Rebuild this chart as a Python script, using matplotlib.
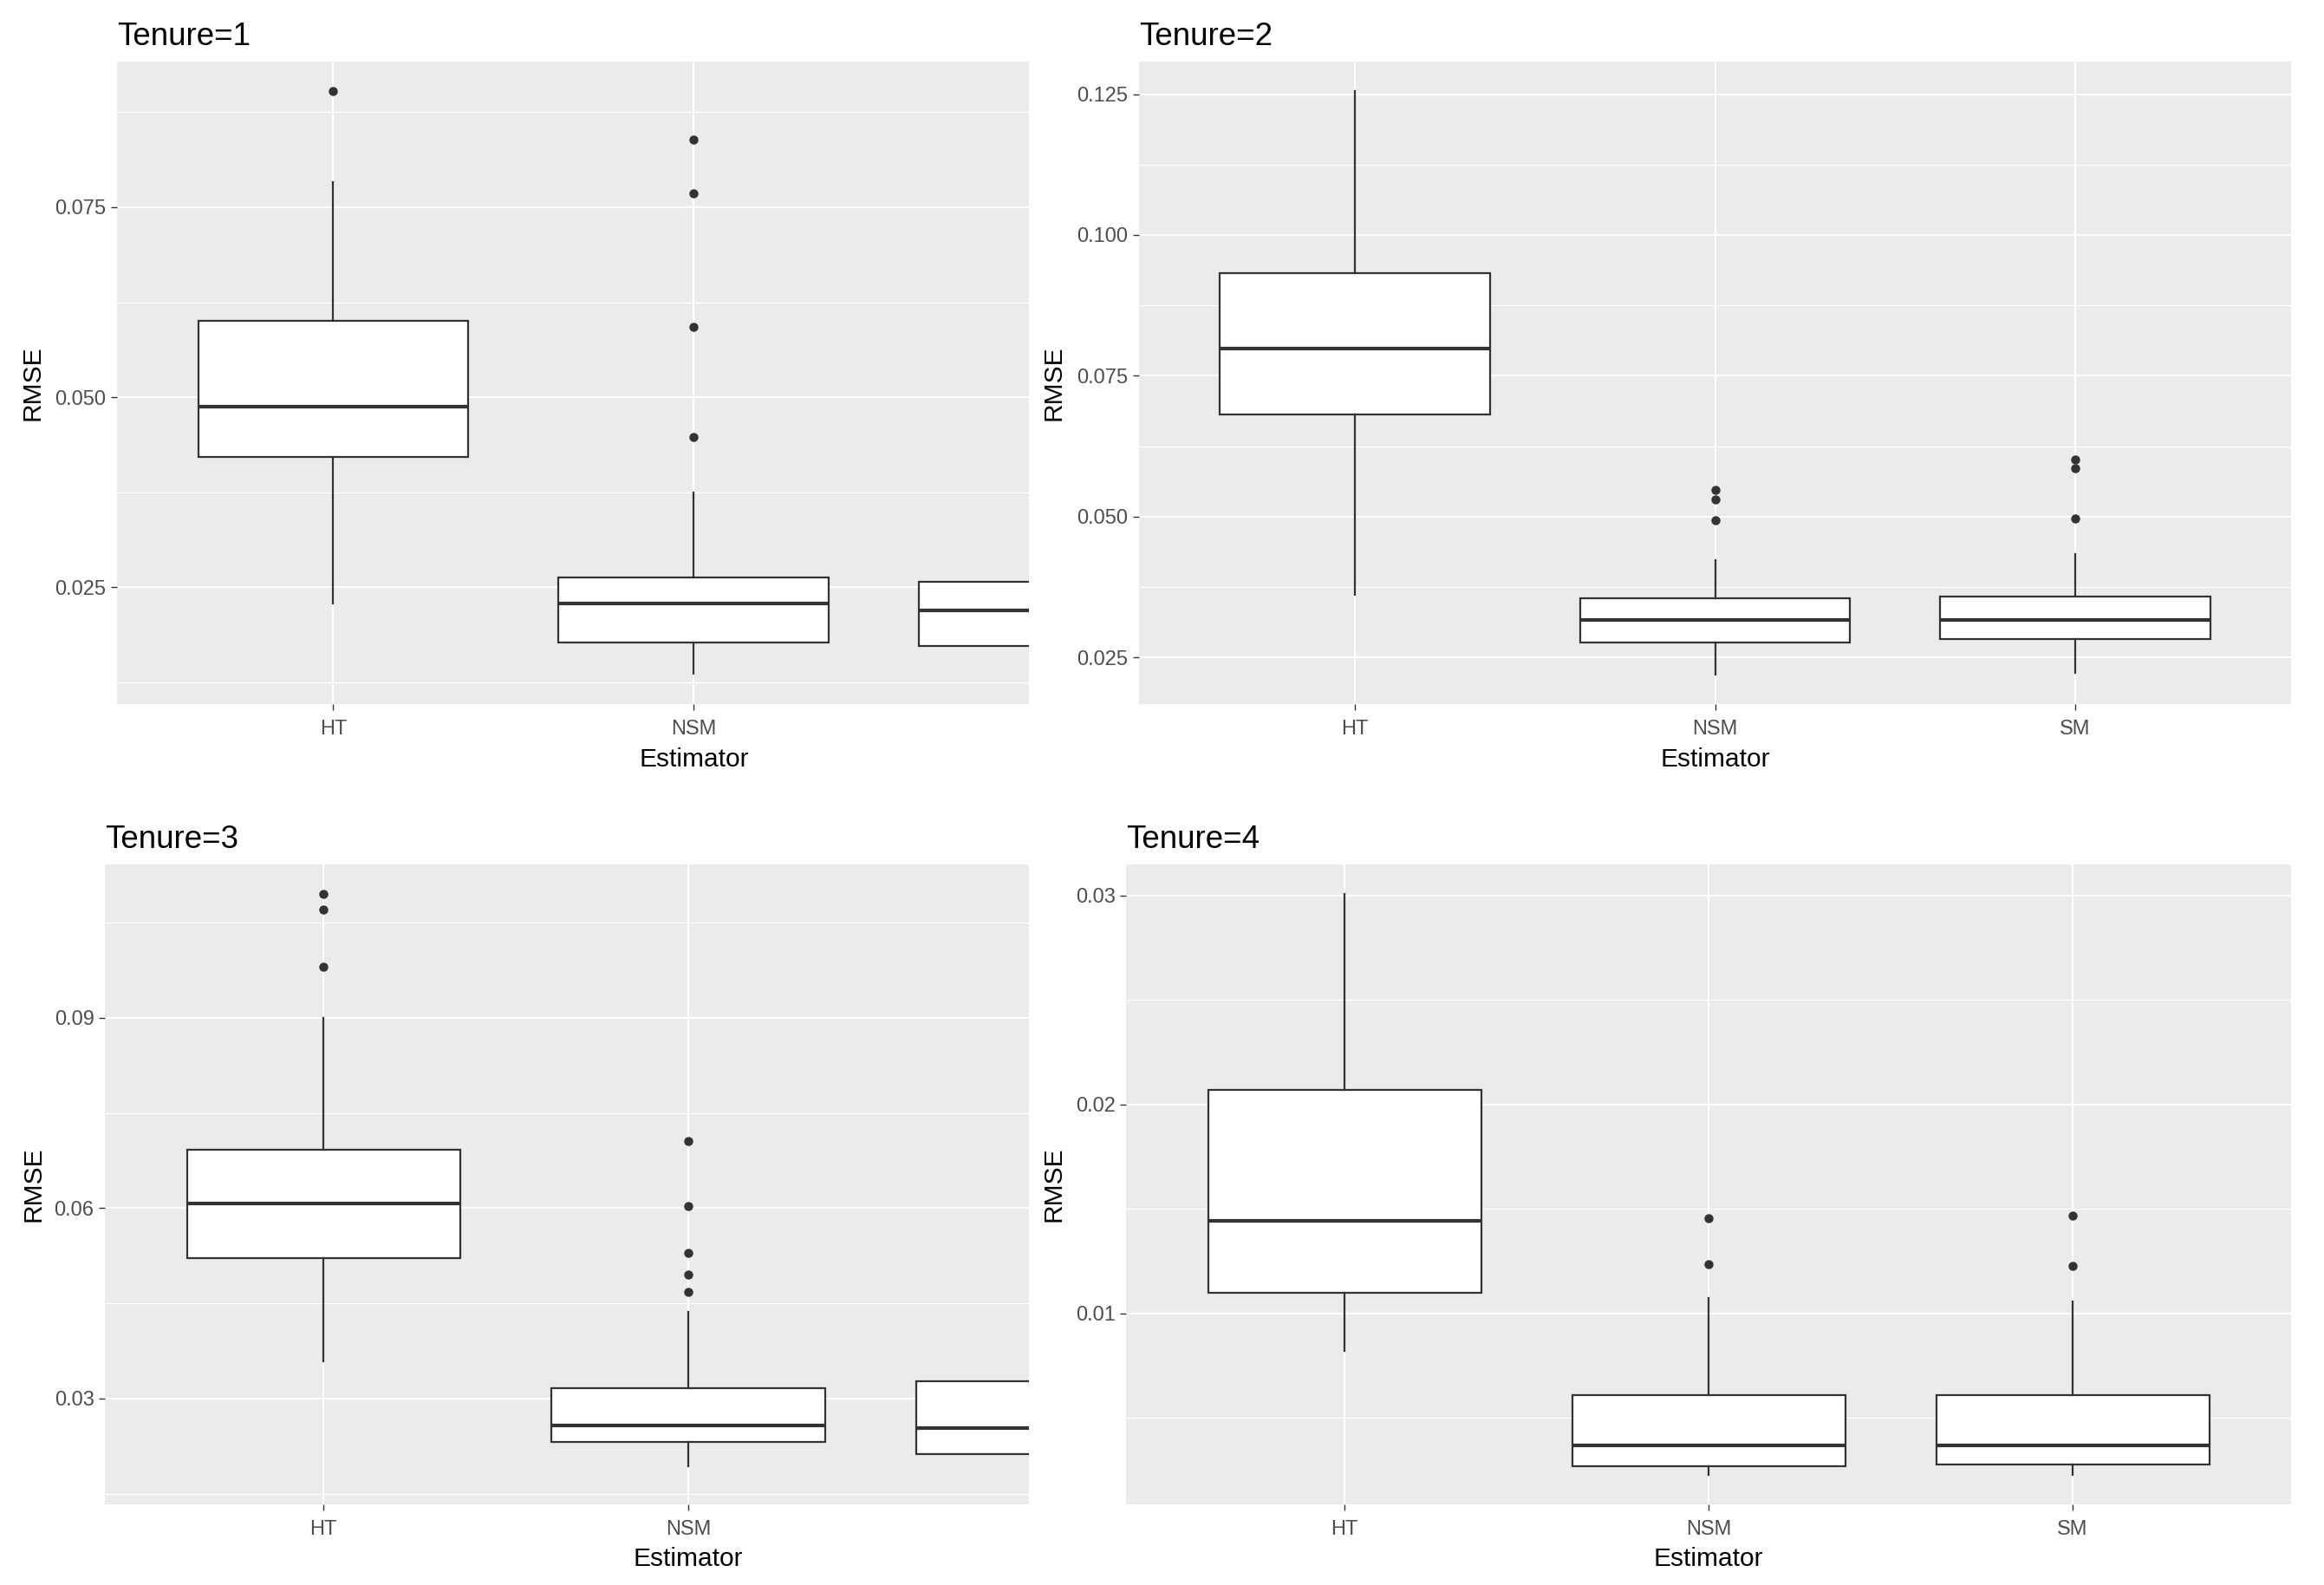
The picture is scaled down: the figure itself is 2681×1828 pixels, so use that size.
import matplotlib
matplotlib.use("Agg")
import matplotlib.pyplot as plt
from matplotlib.ticker import FixedLocator, FormatStrFormatter

plt.rcParams['font.family'] = ['Liberation Sans', 'DejaVu Sans']

estimators = ["HT", "NSM", "SM"]
tenures = [1, 2, 3, 4]

# box statistics per tenure: [HT, NSM, SM]
t1_whislo = [0.0229, 0.0136, 0.0135]
t1_q1     = [0.0421, 0.0177, 0.0173]
t1_med    = [0.0488, 0.0229, 0.0220]
t1_q3     = [0.0600, 0.0263, 0.0257]
t1_whishi = [0.0783, 0.0375, 0.0370]
t1_fliers = [[0.0903], [0.0839, 0.0768, 0.0592, 0.0448], []]

t2_whislo = [0.0361, 0.0219, 0.0222]
t2_q1     = [0.0681, 0.0277, 0.0283]
t2_med    = [0.0799, 0.0316, 0.0316]
t2_q3     = [0.0933, 0.0355, 0.0358]
t2_whishi = [0.1256, 0.0423, 0.0433]
t2_fliers = [[], [0.0547, 0.0531, 0.0494], [0.0602, 0.0586, 0.0496]]

t3_whislo = [0.0359, 0.0193, 0.0179]
t3_q1     = [0.0522, 0.0231, 0.0213]
t3_med    = [0.0607, 0.0257, 0.0253]
t3_q3     = [0.0692, 0.0316, 0.0327]
t3_whishi = [0.0900, 0.0437, 0.0440]
t3_fliers = [[0.1096, 0.1071, 0.0981], [0.0706, 0.0603, 0.0530, 0.0496, 0.0468], []]

t4_whislo = [0.00818, 0.00224, 0.00224]
t4_q1     = [0.0110, 0.00268, 0.00275]
t4_med    = [0.01443, 0.00369, 0.00369]
t4_q3     = [0.0207, 0.00606, 0.00606]
t4_whishi = [0.0301, 0.01072, 0.01058]
t4_fliers = [[], [0.01456, 0.01233], [0.01466, 0.01226]]

# y ticks per tenure
t1_yticks = [0.025, 0.050, 0.075]
t2_yticks = [0.025, 0.050, 0.075, 0.100, 0.125]
t3_yticks = [0.03, 0.06, 0.09]
t4_yticks = [0.01, 0.02, 0.03]
ytick_fmt = ["%.3f", "%.3f", "%.2f", "%.2f"]

data = [
    (t1_whislo, t1_q1, t1_med, t1_q3, t1_whishi, t1_fliers, t1_yticks),
    (t2_whislo, t2_q1, t2_med, t2_q3, t2_whishi, t2_fliers, t2_yticks),
    (t3_whislo, t3_q1, t3_med, t3_q3, t3_whishi, t3_fliers, t3_yticks),
    (t4_whislo, t4_q1, t4_med, t4_q3, t4_whishi, t4_fliers, t4_yticks),
]

W, H = 2681, 1828
fig = plt.figure(figsize=(W / 100, H / 100), dpi=100)

# axes rectangles in pixels: left, right, top, bottom
rects_px = [(135, 1187, 71, 812), (1314, 2643, 71, 812),
            (121, 1187, 997, 1735), (1299, 2643, 997, 1735)]
xmax = [2.93, 3.6, 2.935, 3.6]
ylab_x_px = [38, 1216, 38, 1216]

BG = "#EBEBEB"
DARK = "#333333"
TICKC = "#4D4D4D"

for i, (wlo, q1, med, q3, whi, fl, yt) in enumerate(data):
    l, r, t, b = rects_px[i]
    ax = fig.add_axes([l / W, 1 - b / H, (r - l) / W, (b - t) / H])
    ax.set_facecolor(BG)
    for s in ax.spines.values():
        s.set_visible(False)

    stats = []
    for k, name in enumerate(estimators):
        stats.append(dict(label=name, whislo=wlo[k], q1=q1[k], med=med[k],
                          q3=q3[k], whishi=whi[k], fliers=fl[k]))
    ax.bxp(stats, positions=[1, 2, 3], widths=0.75, patch_artist=True,
           showcaps=False,
           boxprops=dict(facecolor="white", edgecolor=DARK, linewidth=1.6),
           whiskerprops=dict(color=DARK, linewidth=1.6),
           medianprops=dict(color=DARK, linewidth=3.0, solid_capstyle="butt"),
           flierprops=dict(marker="o", markerfacecolor=DARK, markeredgecolor=DARK,
                           markersize=6.5, linestyle="none"),
           zorder=3)

    ax.margins(y=0.05)

    # y ticks and gridlines
    ax.yaxis.set_major_locator(FixedLocator(yt))
    step = yt[1] - yt[0]
    minors = [yt[0] - step / 2] + [v + step / 2 for v in yt]
    ax.yaxis.set_minor_locator(FixedLocator(minors))
    ax.yaxis.set_major_formatter(FormatStrFormatter(ytick_fmt[i]))
    ax.xaxis.set_major_locator(FixedLocator([1, 2, 3]))
    ax.set_xticklabels(estimators)
    ax.set_xlim(0.4, xmax[i])

    ax.grid(True, which="major", color="white", linewidth=1.5, zorder=0)
    ax.grid(True, which="minor", axis="y", color="white", linewidth=0.8, zorder=0)
    ax.set_axisbelow(True)

    ax.tick_params(axis="both", which="major", length=5, width=1.0, color=DARK,
                   labelsize=17, labelcolor=TICKC)
    ax.tick_params(axis="x", which="major", pad=8)
    ax.tick_params(axis="y", which="major", pad=4)
    ax.tick_params(axis="y", which="minor", length=0)

    ax.set_xlabel("Estimator", fontsize=21.5, color="black")
    ax.xaxis.set_label_coords((2 - 0.4) / (xmax[i] - 0.4), -0.067)
    ax.xaxis.label.set_va("top")

    ax.set_ylabel("RMSE", fontsize=21.5, color="black")
    ax.yaxis.set_label_coords((ylab_x_px[i] - l) / (r - l), 0.5)
    ax.yaxis.label.set_va("center")

    ax.text(0, 1 + 19 / (b - t), "Tenure=%d" % tenures[i], transform=ax.transAxes,
            ha="left", va="baseline", fontsize=26.5, color="black")

fig.savefig("out.png", dpi=100)
